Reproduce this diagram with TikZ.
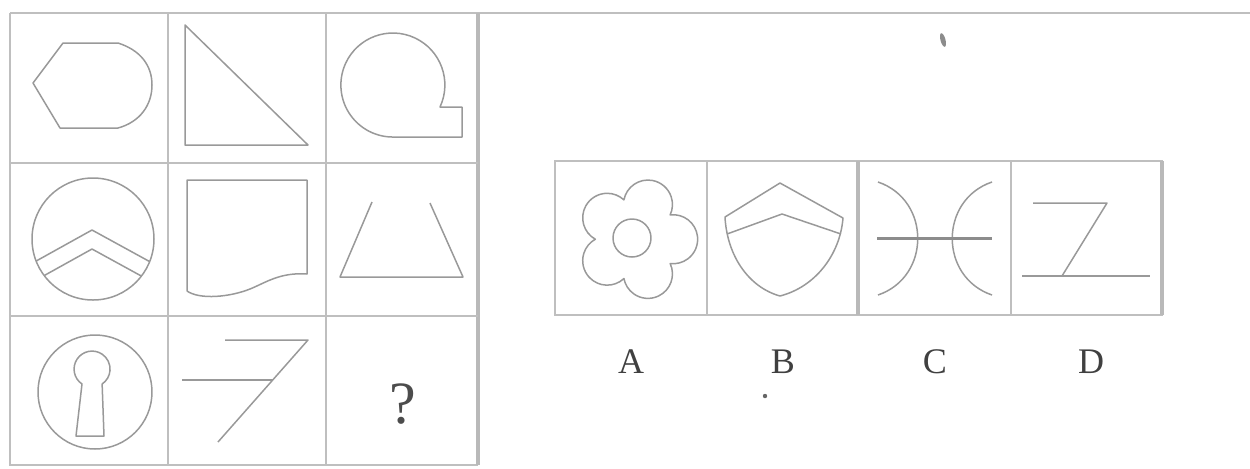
\documentclass[tikz,border=0pt]{standalone}
\usepackage{fontspec}
\setmainfont{Liberation Serif}
\begin{document}
\begin{tikzpicture}[x=0.5pt, y=-0.5pt,
    grid/.style={draw=gray!50, line width=0.8pt},
    heavy/.style={draw=gray!55, line width=1.7pt},
    fig/.style={draw=gray!80, line width=0.75pt, line join=round},
    lbl/.style={font=\fontsize{18}{20}\selectfont, text=black!75}]
  \useasboundingbox (0,0) rectangle (1250,468);
  % 3x3 matrix
  \draw[grid] (10,13) -- (1250,13);
  \draw[grid] (10,13) -- (10,465) -- (478,465);
  \draw[heavy] (478,13) -- (478,465);
  \foreach \x in {168,326} \draw[grid] (\x,13) -- (\x,465);
  \foreach \y in {163,316} \draw[grid] (10,\y) -- (478,\y);
  % row 1
  \draw[fig] (63,43) -- (118,43) .. controls (140,50) and (152,65) .. (152,85)
    .. controls (152,105) and (140,122) .. (118,128) -- (60,128) -- (33,83) -- cycle;
  \draw[fig] (185,25) -- (185,145) -- (308,145) -- cycle;
  \draw[fig] (440,107) arc[start angle=25, end angle=-270, radius=52]
    -- (462,137) -- (462,107) -- cycle;
  % row 2
  \draw[fig] (93,239) circle[radius=61];
  \begin{scope}
    \clip (93,239) circle[radius=61];
    \draw[fig] (20,270) -- (92,230) -- (165,270);
    \draw[fig] (20,289) -- (92,249) -- (165,289);
  \end{scope}
  \draw[fig] (187,291) -- (187,180) -- (307,180) -- (307,274)
    .. controls (280,272) and (265,283) .. (250,289)
    .. controls (230,297) and (200,300) .. (187,291);
  \draw[fig] (372,202) -- (340,277) -- (463,277) -- (430,203);
  % row 3
  \draw[fig] (95,392) circle[radius=57];
  \draw[fig] (82,384) arc[start angle=124, end angle=416, radius=18]
    -- (104,436) -- (76,436) -- cycle;
  \draw[fig] (225,340) -- (308,340) -- (218,442);
  \draw[fig] (182,380) -- (273,380);
  \node[font=\fontsize{30}{32}\selectfont, text=black!70] (ask) at (403,404) {?};
  % options
  \draw[grid] (555,161) rectangle (1162,315);
  \draw[grid] (707,161) -- (707,315);
  \draw[heavy] (858,161) -- (858,315);
  \draw[grid] (1011,161) -- (1011,315);
  \draw[heavy] (1162,161) -- (1162,315);
  % A
  \begin{scope}[shift={(637,239)}]
    \draw[fig] (-36:41) \foreach \a in {0,72,...,288} {
      arc[start angle=\a-97, end angle=\a+97, radius=24.5]} -- cycle;
  \end{scope}
  \draw[fig] (632,238) circle[radius=19];
  % B
  \draw[fig] (725,217) -- (780,183) -- (843,218) .. controls (840,255) and (815,287) .. (780,296)
    .. controls (748,287) and (727,255) .. (725,217) -- cycle;
  \draw[fig] (727,234) -- (782,214) -- (841,234);
  % C
  \draw[fig] (878,182) .. controls (931,200) and (931,277) .. (878,295);
  \draw[fig] (992,182) .. controls (939,200) and (939,277) .. (992,295);
  \draw[fig, draw=gray!90, line width=1.5pt] (877,238) -- (992,238);
  % D
  \draw[fig] (1033,203) -- (1107,203) -- (1062,276);
  \draw[fig] (1022,276) -- (1150,276);
  % labels
  \node[lbl] (la) at (631,362) {A};
  \node[lbl] (lb) at (783,362) {B};
  \node[lbl] (lc) at (935,362) {C};
  \node[lbl] (ld) at (1091,362) {D};
  \fill[black!60] (765,396) circle[radius=2.2];
  \fill[black!45, rotate around={15:(943,40)}] (943,40) ellipse[x radius=2.5, y radius=7];
\end{tikzpicture}
\end{document}
